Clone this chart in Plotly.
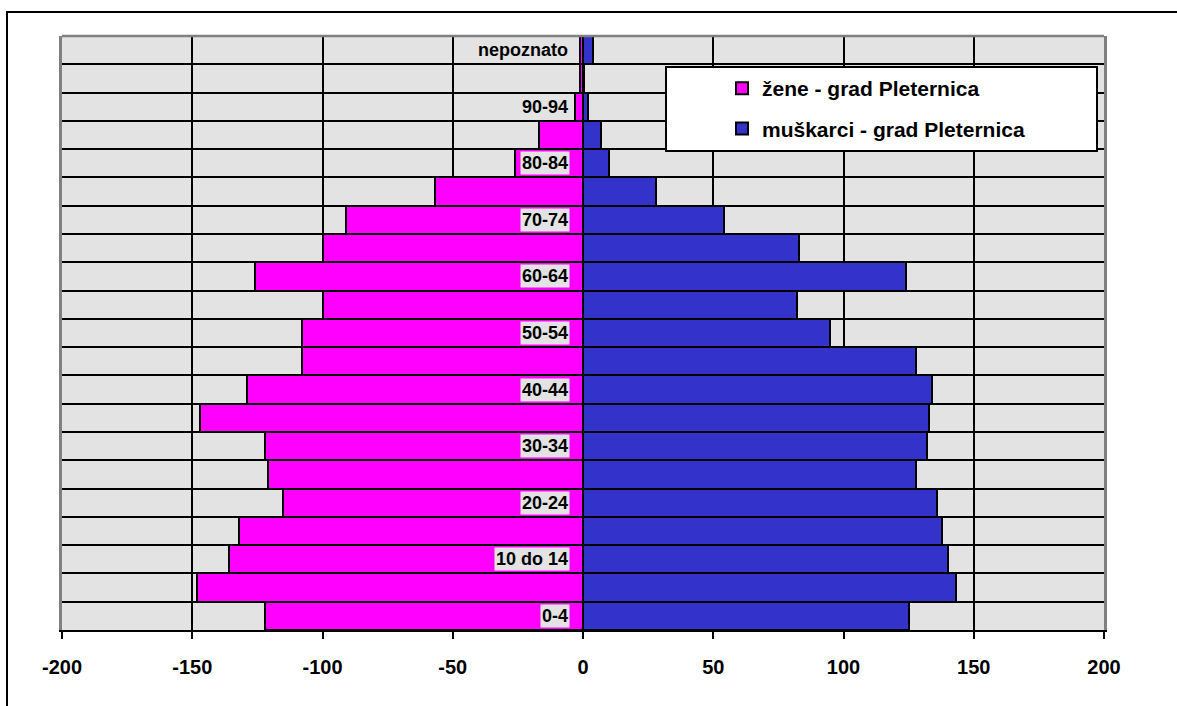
import plotly.graph_objects as go

# Age groups, bottom to top
categories = ['0-4', '5-9', '10 do 14', '15-19', '20-24', '25-29', '30-34',
              '35-39', '40-44', '45-49', '50-54', '55-59', '60-64', '65-69',
              '70-74', '75-79', '80-84', '85-89', '90-94', '95+', 'nepoznato']
# Only every second group is labelled on the axis
labelled = ['0-4', '10 do 14', '20-24', '30-34', '40-44', '50-54', '60-64',
            '70-74', '80-84', '90-94', 'nepoznato']

# Women plotted to the left (negative), men to the right
zene = [-122, -148, -136, -132, -115, -121, -122, -147, -129, -108, -108,
        -100, -126, -100, -91, -57, -26, -17, -3, -1, -1]
muskarci = [125, 143, 140, 138, 136, 128, 132, 133, 134, 128, 95,
            82, 124, 83, 54, 28, 10, 7, 2, 0, 4]

x_ticks = [-200, -150, -100, -50, 0, 50, 100, 150, 200]
x_tick_text = ['-200', '-150', '-100', '-50', '0', '50', '100', '150', '200']

series_names = ['žene - grad Pleternica', 'muškarci - grad Pleternica']
colors = ['#ff00ff', '#3333cc']

FONT = 'Arial, Liberation Sans, sans-serif'
W, H = 1177, 706
L, R, T, B = 62, 73, 36, 76
PW, PH = W - L - R, H - T - B


def px_x(p):
    return (p - L) / PW


def px_y(p):
    return (H - B - p) / PH


rows = list(range(len(categories)))

fig = go.Figure()
for name, vals, col in zip(series_names, [zene, muskarci], colors):
    fig.add_trace(go.Bar(
        y=rows, x=vals, orientation='h', width=1, name=name,
        legendgroup=name,
        marker=dict(color=col, line=dict(color='black', width=2)),
    ))

# Age-group labels sitting just left of the zero axis
for i, cat in enumerate(categories):
    if cat in labelled:
        fig.add_annotation(
            x=0, y=i, xref='x', yref='y', text=cat, showarrow=False,
            xanchor='right', yanchor='middle', xshift=-13,
            bgcolor='#e3e3e3', borderpad=1,
            font=dict(family=FONT, size=18, color='black', weight='bold'),
        )

# outer chart frame: left and top edges, running to the page border
fx0, fy0 = px_x(7), px_y(12)
fx1, fy1 = px_x(W), px_y(H)
frame_path = f'M{fx0},{fy1} L{fx0},{fy0} L{fx1},{fy0}'

shapes = [
    dict(type='path', xref='paper', yref='paper', path=frame_path,
         line=dict(color='black', width=2), layer='below'),
    # grey top edge of plot area
    dict(type='line', xref='paper', yref='paper', x0=0, x1=1, y0=1, y1=1,
         line=dict(color='#808080', width=2.5), layer='above'),
    # legend box
    dict(type='rect', xref='paper', yref='paper',
         x0=px_x(666), x1=px_x(1097), y0=px_y(151), y1=px_y(67),
         line=dict(color='black', width=2), fillcolor='white', layer='above'),
]

fig.update_layout(
    width=W, height=H,
    margin=dict(l=L, r=R, t=T, b=B, pad=0, autoexpand=False),
    paper_bgcolor='white', plot_bgcolor='#e3e3e3',
    barmode='overlay', bargap=0,
    font=dict(family=FONT, color='black'),
    shapes=shapes,
    showlegend=True,
    legend=dict(
        xref='paper', yref='paper',
        x=px_x(722), y=px_y(68), xanchor='left', yanchor='top',
        bgcolor='rgba(0,0,0,0)', borderwidth=0,
        traceorder='grouped', tracegroupgap=10,
        font=dict(family=FONT, size=21, color='black', weight='bold'),
    ),
    xaxis=dict(
        range=[-200, 200], tickmode='array', tickvals=x_ticks,
        ticktext=x_tick_text, ticks='outside', ticklen=7, tickwidth=2,
        tickcolor='black', ticklabelstandoff=11,
        tickfont=dict(family=FONT, size=20, color='black', weight='bold'),
        showgrid=True, gridcolor='black', gridwidth=2,
        zeroline=True, zerolinecolor='black', zerolinewidth=3,
        showline=True, linecolor='black', linewidth=2, mirror=False,
        fixedrange=True,
    ),
    yaxis=dict(
        range=[-0.5, len(categories) - 0.5], tickmode='array',
        tickvals=[i + 0.5 for i in rows[:-1]], showticklabels=False,
        ticks='', showgrid=True, gridcolor='black', gridwidth=2,
        zeroline=False, showline=True, linecolor='#808080', linewidth=2.5,
        mirror=True, fixedrange=True,
    ),
)

fig.write_html('out.html', config={'displayModeBar': False})
